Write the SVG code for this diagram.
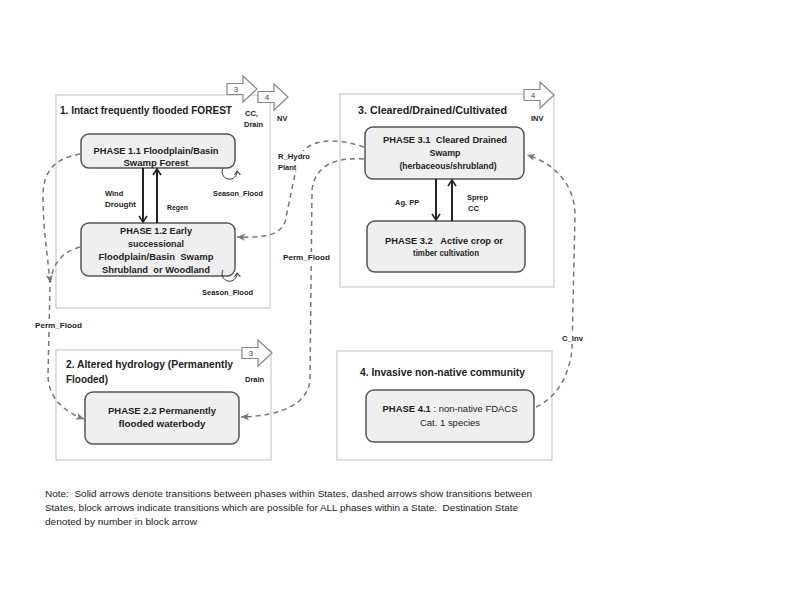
<svg xmlns="http://www.w3.org/2000/svg" width="800" height="600" viewBox="0 0 800 600">
<style>
.state{fill:#fff;stroke:#cfcfcf;stroke-width:1.3}
.phase{fill:#efefef;stroke:#555;stroke-width:1.5}
.t{font-family:"Liberation Sans",Arial,sans-serif;fill:#222}
.title{font-size:11px;font-weight:bold}
.pt{font-size:8.6px;font-weight:bold;text-anchor:middle}
.lb{font-size:7.5px;font-weight:bold}
.lbbg{fill:#fff}
.note{font-size:9.5px}
.dash{fill:none;stroke:#777;stroke-width:1.5;stroke-dasharray:5 4;marker-end:url(#dh)}
.solid{fill:none;stroke:#222;stroke-width:2;marker-end:url(#sh)}
.loop{fill:none;stroke:#333;stroke-width:1;marker-end:url(#lh)}
.blk{fill:#fff;stroke:#888;stroke-width:1.2}
.bn{font-family:"Liberation Sans",Arial,sans-serif;font-size:8px;fill:#444;text-anchor:middle}
</style>
<defs>
<marker id="dh" markerUnits="userSpaceOnUse" markerWidth="9" markerHeight="9" refX="8" refY="4" orient="auto"><path d="M0,0.5 L8,4 L0,7.5 L2,4 z" fill="#777"/></marker>
<marker id="sh" markerUnits="userSpaceOnUse" markerWidth="10" markerHeight="10" refX="7" refY="5" orient="auto"><path d="M1,1 L7,5 L1,9" fill="none" stroke="#222" stroke-width="1.6"/></marker>
<marker id="lh" markerUnits="userSpaceOnUse" markerWidth="8" markerHeight="8" refX="4" refY="4" orient="auto"><path d="M0,1 L4,4 L0,7" fill="none" stroke="#333" stroke-width="1"/></marker>
<path id="barrow" d="M0,-5.5 L16,-5.5 L16,-13 L30,0 L16,13 L16,5.5 L0,5.5 z"/>
</defs>

<g id="state1">
<rect class="state" x="56" y="95" width="214" height="213"/>
<text class="t title" x="60" y="114" style="font-size:10px" textLength="172" lengthAdjust="spacingAndGlyphs">1. Intact frequently flooded FOREST</text>
</g>
<g id="state3">
<rect class="state" x="340" y="94" width="214" height="193"/>
<text class="t title" x="358" y="114" textLength="149" lengthAdjust="spacingAndGlyphs">3. Cleared/Drained/Cultivated</text>
</g>
<g id="state2">
<rect class="state" x="56" y="350" width="215" height="110"/>
<text class="t title" x="66" y="368" textLength="167" lengthAdjust="spacingAndGlyphs">2. Altered hydrology (Permanently</text>
<text class="t title" x="66" y="383" textLength="42" lengthAdjust="spacingAndGlyphs">Flooded)</text>
</g>
<g id="state4">
<rect class="state" x="337" y="351" width="215" height="109"/>
<text class="t title" x="360" y="376" textLength="165" lengthAdjust="spacingAndGlyphs">4. Invasive non-native community</text>
</g>

<g id="phase11">
<rect class="phase" x="81" y="134" width="154" height="34" rx="8"/>
<text class="t pt" x="156" y="154" textLength="125" lengthAdjust="spacingAndGlyphs">PHASE 1.1 Floodplain/Basin</text>
<text class="t pt" x="156" y="166" textLength="65" lengthAdjust="spacingAndGlyphs">Swamp Forest</text>
</g>
<g id="phase12">
<rect class="phase" x="81" y="223" width="154" height="53" rx="8"/>
<text class="t pt" x="156" y="234" textLength="72" lengthAdjust="spacingAndGlyphs">PHASE 1.2 Early</text>
<text class="t pt" x="156" y="247" textLength="56" lengthAdjust="spacingAndGlyphs">successional</text>
<text class="t pt" x="156" y="260" textLength="115" lengthAdjust="spacingAndGlyphs" xml:space="preserve">Floodplain/Basin  Swamp</text>
<text class="t pt" x="156" y="273" textLength="108" lengthAdjust="spacingAndGlyphs" xml:space="preserve">Shrubland  or Woodland</text>
</g>
<g id="phase31">
<rect class="phase" x="365" y="127" width="159" height="52" rx="8"/>
<text class="t pt" x="445" y="143" textLength="124" lengthAdjust="spacingAndGlyphs" xml:space="preserve">PHASE 3.1  Cleared Drained</text>
<text class="t pt" x="445" y="156" textLength="31" lengthAdjust="spacingAndGlyphs">Swamp</text>
<text class="t pt" x="448" y="169" textLength="97" lengthAdjust="spacingAndGlyphs">(herbaceous/shrubland)</text>
</g>
<g id="phase32">
<rect class="phase" x="367" y="221" width="158" height="51" rx="8"/>
<text class="t pt" x="444" y="244" textLength="118" lengthAdjust="spacingAndGlyphs" xml:space="preserve">PHASE 3.2   Active crop or</text>
<text class="t pt" x="446" y="256" textLength="66" lengthAdjust="spacingAndGlyphs">timber cultivation</text>
</g>
<g id="phase22">
<rect class="phase" x="85" y="392" width="154" height="52" rx="8"/>
<text class="t pt" x="162" y="414" textLength="108" lengthAdjust="spacingAndGlyphs">PHASE 2.2 Permanently</text>
<text class="t pt" x="162" y="427" textLength="87" lengthAdjust="spacingAndGlyphs">flooded waterbody</text>
</g>
<g id="phase41">
<rect class="phase" x="366" y="390" width="168" height="52" rx="8"/>
<text class="t pt" x="450" y="412" textLength="135" lengthAdjust="spacingAndGlyphs">PHASE 4.1<tspan font-weight="normal"> : non-native FDACS</tspan></text>
<text class="t pt" x="450" y="426" style="font-weight:normal" textLength="60" lengthAdjust="spacingAndGlyphs">Cat. 1 species</text>
</g>

<g id="block-arrows">
<use href="#barrow" class="blk" transform="translate(227,89)"/>
<text class="bn" x="236" y="92">3</text>
<use href="#barrow" class="blk" transform="translate(258,97)"/>
<text class="bn" x="267" y="100">4</text>
<use href="#barrow" class="blk" transform="translate(524,95)"/>
<text class="bn" x="533" y="98">4</text>
<use href="#barrow" class="blk" transform="translate(242,353)"/>
<text class="bn" x="251" y="356">3</text>
</g>

<g id="connectors">
<path class="solid" d="M143,168 L143,222"/>
<path class="solid" d="M157,223 L157,169"/>
<path class="solid" d="M436,179 L436,220"/>
<path class="solid" d="M452,221 L452,180"/>
<path class="loop" d="M223,168 A7.5,7.5 0 1,0 237,171"/>
<path class="loop" d="M223,270 A7.5,7.5 0 1,0 237,273"/>
<path class="dash" d="M80,154 C56,158 43,170 43,196 C43,230 48,258 50,283"/>
<path class="dash" d="M80,247 C62,252 51,264 50,287 L48,375 C48,396 62,411 84,419"/>
<path class="dash" d="M364,147 C336,138 306,137 298,160 L285,222 C280,235 265,238 237,237"/>
<path class="dash" d="M364,159 C336,157 315,165 312,190 L310,380 C308,402 285,416 241,417"/>
<path class="dash" d="M536,407 C555,398 568,380 572,350 L575,215 C575,190 560,165 527,155"/>
</g>

<g id="labels">
<text class="t lb" x="105" y="196">Wind</text>
<text class="t lb" x="105" y="207" textLength="31" lengthAdjust="spacingAndGlyphs">Drought</text>
<text class="t lb" x="167" y="210" textLength="21" lengthAdjust="spacingAndGlyphs">Regen</text>
<text class="t lb" x="213" y="196" textLength="50" lengthAdjust="spacingAndGlyphs">Season_Flood</text>
<text class="t lb" x="202" y="295" textLength="51" lengthAdjust="spacingAndGlyphs">Season_Flood</text>
<text class="t lb" x="245" y="116">CC,</text>
<text class="t lb" x="244" y="127">Drain</text>
<text class="t lb" x="277" y="121">NV</text>
<text class="t lb" x="531" y="121">INV</text>
<text class="t lb" x="245" y="382">Drain</text>
<text class="t lb" x="395" y="205">Ag. PP</text>
<text class="t lb" x="467" y="200" textLength="21" lengthAdjust="spacingAndGlyphs">Sprep</text>
<text class="t lb" x="468" y="211">CC</text>
<rect class="lbbg" x="275" y="151" width="37" height="20"/>
<text class="t lb" x="278" y="159" textLength="32" lengthAdjust="spacingAndGlyphs">R_Hydro</text>
<text class="t lb" x="278" y="170">Plant</text>
<rect class="lbbg" x="282" y="252" width="50" height="11"/>
<text class="t lb" x="283" y="260" textLength="47" lengthAdjust="spacingAndGlyphs">Perm_Flood</text>
<rect class="lbbg" x="34" y="319" width="50" height="11"/>
<text class="t lb" x="35" y="328" textLength="47" lengthAdjust="spacingAndGlyphs">Perm_Flood</text>
<rect class="lbbg" x="561" y="333" width="24" height="11"/>
<text class="t lb" x="562" y="341" textLength="21" lengthAdjust="spacingAndGlyphs">C_Inv</text>
</g>

<g id="note">
<text class="t note" x="45" y="497" textLength="487" lengthAdjust="spacingAndGlyphs" xml:space="preserve">Note:  Solid arrows denote transitions between phases within States, dashed arrows show transitions between</text>
<text class="t note" x="45" y="511" textLength="473" lengthAdjust="spacingAndGlyphs" xml:space="preserve">States, block arrows indicate transitions which are possible for ALL phases within a State.  Destination State</text>
<text class="t note" x="45" y="525" textLength="152" lengthAdjust="spacingAndGlyphs">denoted by number in block arrow</text>
</g>
</svg>
